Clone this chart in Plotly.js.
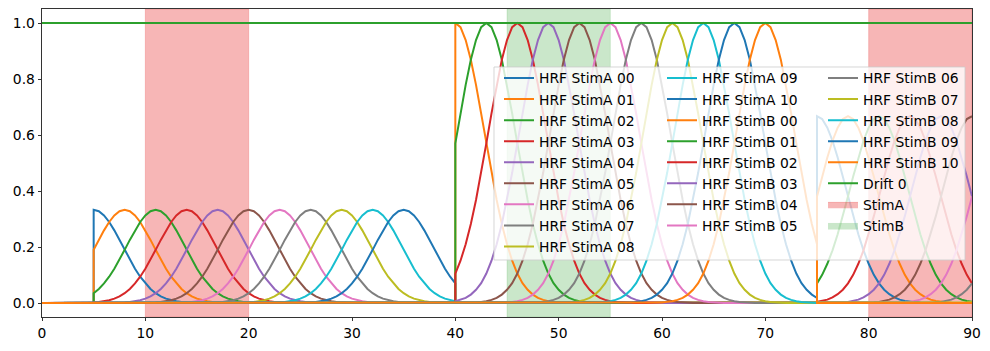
<!DOCTYPE html>
<html><head><meta charset="utf-8">
<script src="https://cdn.plot.ly/plotly-3.0.1.min.js"></script>
<style>html,body{margin:0;padding:0;background:#fff}#chart{width:990px;height:351px}</style>
</head><body><div id="chart"></div>
<script>
// ---- data ----
const tStart = 0, tEnd = 90, tStep = 0.5;
// HRF bump shape: value vs |time from peak| in steps of 0.5
const bumpProfile = [1.000,0.985,0.939,0.869,0.779,0.677,0.570,0.465,0.368,0.282,0.210,0.151,0.105,0.071,0.047,0.030,0.018,0.011,0.006,0.004,0.002];
// peak of each basis function relative to the block start
const peakOffsets = [0,3,6,9,12,15,18,21,24,27,30];
const basisLabels = ['00','01','02','03','04','05','06','07','08','09','10'];
// blocks in which each regressor is active, with their amplitude
const stimABlockStarts = [5, 75];
const stimABlockEnds = [40, 90];
const stimAAmplitudes = [0.333, 0.667];
const stimBBlockStarts = [40];
const stimBBlockEnds = [75];
const stimBAmplitudes = [1.0];
const driftLevel = 1.0;
// shaded stimulus intervals
const stimAIntervalStarts = [10, 80];
const stimAIntervalEnds = [20, 90];
const stimBIntervalStarts = [45];
const stimBIntervalEnds = [55];
// axes
const xTicks = [0,10,20,30,40,50,60,70,80,90];
const yTicks = [0,0.2,0.4,0.6,0.8,1.0];
const yTickText = ['0.0','0.2','0.4','0.6','0.8','1.0'];
const yRange = [-0.05, 1.05];

const tab10 = ['#1f77b4','#ff7f0e','#2ca02c','#d62728','#9467bd','#8c564b','#e377c2','#7f7f7f','#bcbd22','#17becf'];
const FS = 13.89;

function basisValue(starts, ends, amps, k, t, side){
  for(let b=0;b<starts.length;b++){
    const inBlock = side==='left' ? (t>starts[b] && t<=ends[b]) : (t>=starts[b] && t<ends[b]);
    if(inBlock){
      const idx = Math.round(Math.abs(t - starts[b] - peakOffsets[k]) / tStep);
      return idx < bumpProfile.length ? amps[b]*bumpProfile[idx] : 0;
    }
  }
  return 0;
}
function buildSeries(starts, ends, amps, k){
  const xs=[], ys=[];
  const N = Math.round((tEnd-tStart)/tStep);
  for(let i=0;i<=N;i++){
    const t = tStart + i*tStep;
    const L = i===0 ? null : basisValue(starts, ends, amps, k, t, 'left');
    const R = i===N ? null : basisValue(starts, ends, amps, k, t, 'right');
    if(L===null){xs.push(t);ys.push(R);}
    else if(R===null || Math.abs(L-R)<1e-12){xs.push(t);ys.push(L);}
    else {xs.push(t,t);ys.push(L,R);}
  }
  return {xs, ys};
}
function intervalPolys(starts, ends){
  const xs=[], ys=[];
  for(let i=0;i<starts.length;i++){
    if(i>0){xs.push(null);ys.push(null);}
    xs.push(starts[i],ends[i],ends[i],starts[i],starts[i]);
    ys.push(yRange[0],yRange[0],yRange[1],yRange[1],yRange[0]);
  }
  return {xs, ys};
}

const traces = [];
const sa = intervalPolys(stimAIntervalStarts, stimAIntervalEnds);
const sb = intervalPolys(stimBIntervalStarts, stimBIntervalEnds);
traces.push({x:sa.xs,y:sa.ys,type:'scatter',mode:'lines',fill:'toself',fillcolor:'rgba(230,20,20,0.31)',line:{color:'rgba(230,20,20,0.2)',width:1},name:'StimA',legend:'legend3',legendrank:2000,hoverinfo:'skip'});
traces.push({x:sb.xs,y:sb.ys,type:'scatter',mode:'lines',fill:'toself',fillcolor:'rgba(44,160,44,0.25)',line:{color:'rgba(44,160,44,0.15)',width:1},name:'StimB',legend:'legend3',legendrank:2001,hoverinfo:'skip'});

let ci = 0;
function legendFor(idx){ return idx<9 ? 'legend' : (idx<17 ? 'legend2' : 'legend3'); }
for(let k=0;k<basisLabels.length;k++){
  const s = buildSeries(stimABlockStarts, stimABlockEnds, stimAAmplitudes, k);
  traces.push({x:s.xs,y:s.ys,type:'scatter',mode:'lines',line:{color:tab10[ci%10],width:2},name:'HRF StimA '+basisLabels[k],legend:legendFor(ci)});
  ci++;
}
for(let k=0;k<basisLabels.length;k++){
  const s = buildSeries(stimBBlockStarts, stimBBlockEnds, stimBAmplitudes, k);
  traces.push({x:s.xs,y:s.ys,type:'scatter',mode:'lines',line:{color:tab10[ci%10],width:2},name:'HRF StimB '+basisLabels[k],legend:legendFor(ci)});
  ci++;
}
traces.push({x:[tStart,tEnd],y:[driftLevel,driftLevel],type:'scatter',mode:'lines',line:{color:tab10[ci%10],width:2},name:'Drift 0',legend:'legend3'});

const PL = 42, PR = 972, PT = 9, PB = 317;
const W = PR-PL, H = PB-PT;
function px2x(p){return (p-PL)/W;}
function px2y(p){return (PB-p)/H;}
const legCommon = {xanchor:'left',yanchor:'top',bgcolor:'rgba(0,0,0,0)',borderwidth:0,font:{family:'DejaVu Sans',size:FS,color:'black'},orientation:'v'};
const tf = {family:'DejaVu Sans',size:FS,color:'black'};
const layout = {
  width:990,height:351,
  margin:{l:PL,r:990-PR,t:PT,b:351-PB,pad:0},
  paper_bgcolor:'white',plot_bgcolor:'white',
  font:{family:'DejaVu Sans',size:FS,color:'black'},
  showlegend:true,
  xaxis:{range:[tStart,tEnd],tickvals:xTicks,ticks:'outside',ticklen:3.5,tickwidth:0.8,tickcolor:'black',showline:true,mirror:true,linecolor:'black',linewidth:0.8,showgrid:false,zeroline:false,tickfont:tf},
  yaxis:{range:yRange,tickvals:yTicks,ticktext:yTickText,ticks:'outside',ticklen:3.5,tickwidth:0.8,tickcolor:'black',showline:true,mirror:true,linecolor:'black',linewidth:0.8,showgrid:false,zeroline:false,tickfont:tf},
  legend:Object.assign({},legCommon,{x:px2x(499),y:px2y(62.5)}),
  legend2:Object.assign({},legCommon,{x:px2x(662),y:px2y(62.5)}),
  legend3:Object.assign({},legCommon,{x:px2x(823),y:px2y(62.5)}),
  shapes:[{type:'rect',xref:'paper',yref:'paper',x0:px2x(494),x1:px2x(965),y0:px2y(260),y1:px2y(67),fillcolor:'rgba(255,255,255,0.8)',line:{color:'rgba(204,204,204,0.8)',width:1},layer:'above'}]
};
Plotly.newPlot('chart',traces,layout,{displayModeBar:false,staticPlot:true});
</script>
</body></html>
